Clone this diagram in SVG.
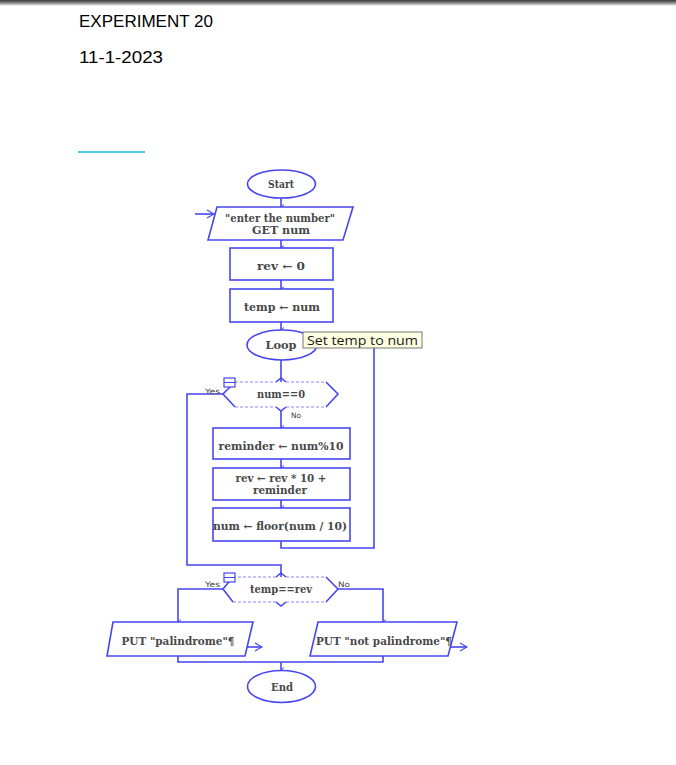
<svg xmlns="http://www.w3.org/2000/svg" width="676" height="765" viewBox="0 0 676 765">
<defs>
<linearGradient id="topbar" x1="0" y1="0" x2="0" y2="1">
<stop offset="0" stop-color="#3a3a3a"/>
<stop offset="0.5" stop-color="#8a8a8a"/>
<stop offset="1" stop-color="#ffffff"/>
</linearGradient>
<marker id="ah" markerWidth="6" markerHeight="5" refX="3" refY="4" orient="auto-start-reverse" markerUnits="userSpaceOnUse">
<path d="M0.5,1 L3,4 L5.5,1" fill="none" stroke="#4646f0" stroke-width="1"/>
</marker>
<marker id="oa" markerWidth="10" markerHeight="10" refX="9" refY="5" orient="auto" markerUnits="userSpaceOnUse">
<path d="M2,1 L9,5 L2,9" fill="none" stroke="#4646f0" stroke-width="1.2"/>
</marker>
</defs>
<style>
.shape{fill:#ffffff;stroke:#4646f0;stroke-width:1.6}
.edge{fill:none;stroke:#4646f0;stroke-width:1.6}
.dash{fill:none;stroke:#8a8af5;stroke-width:1.2;stroke-dasharray:3,2}
.t{font-family:"DejaVu Serif","Liberation Serif",serif;font-size:10.5px;font-weight:bold;fill:#484848;text-anchor:middle}
.s{font-family:"DejaVu Sans","Liberation Sans",sans-serif;font-size:7.5px;fill:#444444}
.h{font-family:"Liberation Sans","Noto Sans",sans-serif;font-size:17px;fill:#000000}
</style>
<rect x="0" y="0" width="676" height="765" fill="#ffffff"/>
<rect x="0" y="0" width="676" height="6" fill="url(#topbar)"/>
<text class="h" x="79" y="27" textLength="134" lengthAdjust="spacingAndGlyphs">EXPERIMENT 20</text>
<text class="h" x="79" y="63" textLength="84" lengthAdjust="spacingAndGlyphs">11-1-2023</text>
<line x1="78" y1="152" x2="145" y2="152" stroke="#1ab8d0" stroke-width="1.6"/>

<g id="connectors">
<path class="edge" d="M195,214 H214" marker-end="url(#oa)"/>
<path class="edge" d="M281,198 V207" marker-end="url(#ah)"/>
<path class="edge" d="M281,240 V248" marker-end="url(#ah)"/>
<path class="edge" d="M281,280 V289" marker-end="url(#ah)"/>
<path class="edge" d="M281,322 V330" marker-end="url(#ah)"/>
<path class="edge" d="M281,360 V382"/>
<path class="edge" d="M281,411 V428" marker-end="url(#ah)"/>
<path class="edge" d="M281,459 V468" marker-end="url(#ah)"/>
<path class="edge" d="M281,500 V508" marker-end="url(#ah)"/>
<path class="edge" d="M281,541 V548 H374 V345 H317"/>
<path class="edge" d="M223,394 H187 V565 H281 V577"/>
<path class="edge" d="M223,589 H178 V622" marker-end="url(#ah)"/>
<path class="edge" d="M338,589 H383 V622" marker-end="url(#ah)"/>
<path class="edge" d="M247,647 H262" marker-end="url(#oa)"/>
<path class="edge" d="M450,647 H467" marker-end="url(#oa)"/>
<path class="edge" d="M178,656 V662 H383 V656"/>
<path class="edge" d="M281,662 V670" marker-end="url(#ah)"/>
</g>

<g id="start">
<ellipse class="shape" cx="281.5" cy="184" rx="34" ry="14"/>
<text class="t" x="281" y="188" textLength="26" lengthAdjust="spacingAndGlyphs">Start</text>
</g>

<g id="input">
<polygon class="shape" points="217,207 353,207 343,240 208,240"/>
<text class="t" x="280" y="222" font-size="10" textLength="110" lengthAdjust="spacingAndGlyphs">"enter the number"</text>
<text class="t" x="281" y="234" font-size="10" textLength="58" lengthAdjust="spacingAndGlyphs">GET num</text>
</g>

<g id="rev0">
<rect class="shape" x="230" y="248" width="103" height="32"/>
<text class="t" x="281" y="270" textLength="48" lengthAdjust="spacingAndGlyphs">rev ← 0</text>
</g>

<g id="tempnum">
<rect class="shape" x="230" y="289" width="103" height="33"/>
<text class="t" x="282" y="311" textLength="76" lengthAdjust="spacingAndGlyphs">temp ← num</text>
</g>

<g id="loop">
<ellipse class="shape" cx="282" cy="345" rx="35" ry="15"/>
<text class="t" x="281" y="349" textLength="31" lengthAdjust="spacingAndGlyphs">Loop</text>
</g>

<g id="tooltip">
<rect x="303" y="332" width="119" height="16" fill="#ffffe1" stroke="#767676" stroke-width="1"/>
<text x="307" y="344.5" font-family="Open Sans, Noto Sans, sans-serif" font-size="12" fill="#1a1a1a" textLength="111" lengthAdjust="spacingAndGlyphs">Set temp to num</text>
</g>

<g id="cond1">
<polygon points="235,382 326,382 338,394 326,407 235,407 223,394" fill="#ffffff" stroke="none"/>
<path class="dash" d="M235,382 H276 M286,382 H326 M235,407 H276 M286,407 H326"/>
<path class="edge" d="M235,382 L223,394 L235,407 M326,382 L338,394 L326,407"/>
<path class="edge" d="M276,382 L281,378 L286,382 M276,407 L281,411 L286,407" stroke-width="1.2"/>
<rect x="224" y="378" width="11" height="9" fill="#ffffff" stroke="#4646f0" stroke-width="1.2"/>
<line x1="224" y1="382.5" x2="235" y2="382.5" stroke="#4646f0" stroke-width="1"/>
<text class="t" x="281" y="398" textLength="48" lengthAdjust="spacingAndGlyphs">num==0</text>
<text class="s" x="205" y="394" textLength="15" lengthAdjust="spacingAndGlyphs">Yes</text>
<text class="s" x="291" y="418" textLength="10" lengthAdjust="spacingAndGlyphs">No</text>
</g>

<g id="reminder">
<rect class="shape" x="213" y="428" width="137" height="31"/>
<text class="t" x="281" y="450" textLength="125" lengthAdjust="spacingAndGlyphs">reminder ← num%10</text>
</g>

<g id="revcalc">
<rect class="shape" x="213" y="468" width="137" height="32"/>
<text class="t" x="281" y="482" textLength="91" lengthAdjust="spacingAndGlyphs">rev ← rev * 10 +</text>
<text class="t" x="280" y="494" textLength="54" lengthAdjust="spacingAndGlyphs">reminder</text>
</g>

<g id="numfloor">
<rect class="shape" x="213" y="508" width="137" height="33"/>
<text class="t" x="280" y="530" textLength="134" lengthAdjust="spacingAndGlyphs">num ← floor(num / 10)</text>
</g>

<g id="cond2">
<polygon points="233,577 326,577 338,589 326,602 233,602 223,589" fill="#ffffff" stroke="none"/>
<path class="dash" d="M233,577 H276 M286,577 H326 M233,602 H276 M286,602 H326"/>
<path class="edge" d="M233,577 L223,589 L233,602 M326,577 L338,589 L326,602"/>
<path class="edge" d="M276,577 L281,573 L286,577 M276,602 L281,606 L286,602" stroke-width="1.2"/>
<rect x="224" y="573" width="11" height="9" fill="#ffffff" stroke="#4646f0" stroke-width="1.2"/>
<line x1="224" y1="577.5" x2="235" y2="577.5" stroke="#4646f0" stroke-width="1"/>
<text class="t" x="281" y="593" textLength="62" lengthAdjust="spacingAndGlyphs">temp==rev</text>
<text class="s" x="205" y="587" textLength="15" lengthAdjust="spacingAndGlyphs">Yes</text>
<text class="s" x="338" y="587" textLength="12" lengthAdjust="spacingAndGlyphs">No</text>
</g>

<g id="putpal">
<polygon class="shape" points="113,622 253,622 245,656 107,656"/>
<text class="t" x="178" y="645" textLength="113" lengthAdjust="spacingAndGlyphs">PUT "palindrome"¶</text>
</g>

<g id="putnotpal">
<polygon class="shape" points="318,622 457,622 448,656 310,656"/>
<text class="t" x="384" y="645" textLength="136" lengthAdjust="spacingAndGlyphs">PUT "not palindrome"¶</text>
</g>

<g id="end">
<ellipse class="shape" cx="281.5" cy="686.5" rx="34" ry="16"/>
<text class="t" x="282" y="691" textLength="22" lengthAdjust="spacingAndGlyphs">End</text>
</g>
</svg>
